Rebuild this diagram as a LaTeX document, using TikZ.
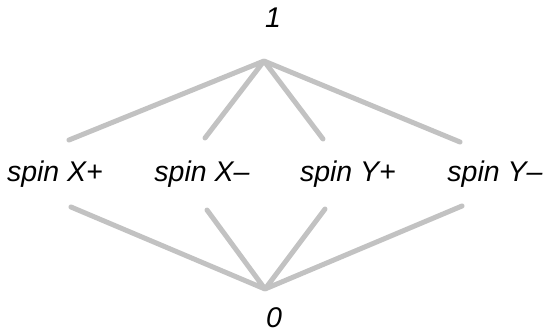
\documentclass[tikz,border=0pt]{standalone}
\usepackage{fontspec}
\setmainfont{Liberation Sans}
\usepackage{tikz}
\definecolor{edgegray}{HTML}{C2C2C2}

\begin{document}
\begin{tikzpicture}[
  x=1pt, y=-1pt,
  every node/.style={font=\fontsize{28.5}{31}\selectfont\itshape, inner sep=0pt},
  lbl/.style={anchor=base},
  ed/.style={draw=edgegray, line width=5pt, line cap=round, line join=round}
]
  \useasboundingbox (0,0) rectangle (544,333);
  % elements
  \node[lbl] (one)  at (273,27)  {1};
  \node[lbl] (xp)   at (55,181)  {spin X+};
  \node[lbl] (xm)   at (202,181) {spin X--};
  \node[lbl] (yp)   at (348,181) {spin Y+};
  \node[lbl] (ym)   at (495,181) {spin Y--};
  \node[lbl] (zero) at (274,327) {0};
  % meeting points and line ends
  \coordinate (hi) at (264,61);
  \coordinate (lo) at (265,289);
  \coordinate (xp-u) at (69,140);  \coordinate (xp-d) at (71,207);
  \coordinate (xm-u) at (205,138); \coordinate (xm-d) at (207,210);
  \coordinate (yp-u) at (323,139); \coordinate (yp-d) at (325,209);
  \coordinate (ym-u) at (460,142); \coordinate (ym-d) at (462,206);
  % edges
  \draw[ed] (xp-u) -- (hi) -- (xm-u);
  \draw[ed] (yp-u) -- (hi) -- (ym-u);
  \draw[ed] (xp-d) -- (lo) -- (xm-d);
  \draw[ed] (yp-d) -- (lo) -- (ym-d);
\end{tikzpicture}
\end{document}
